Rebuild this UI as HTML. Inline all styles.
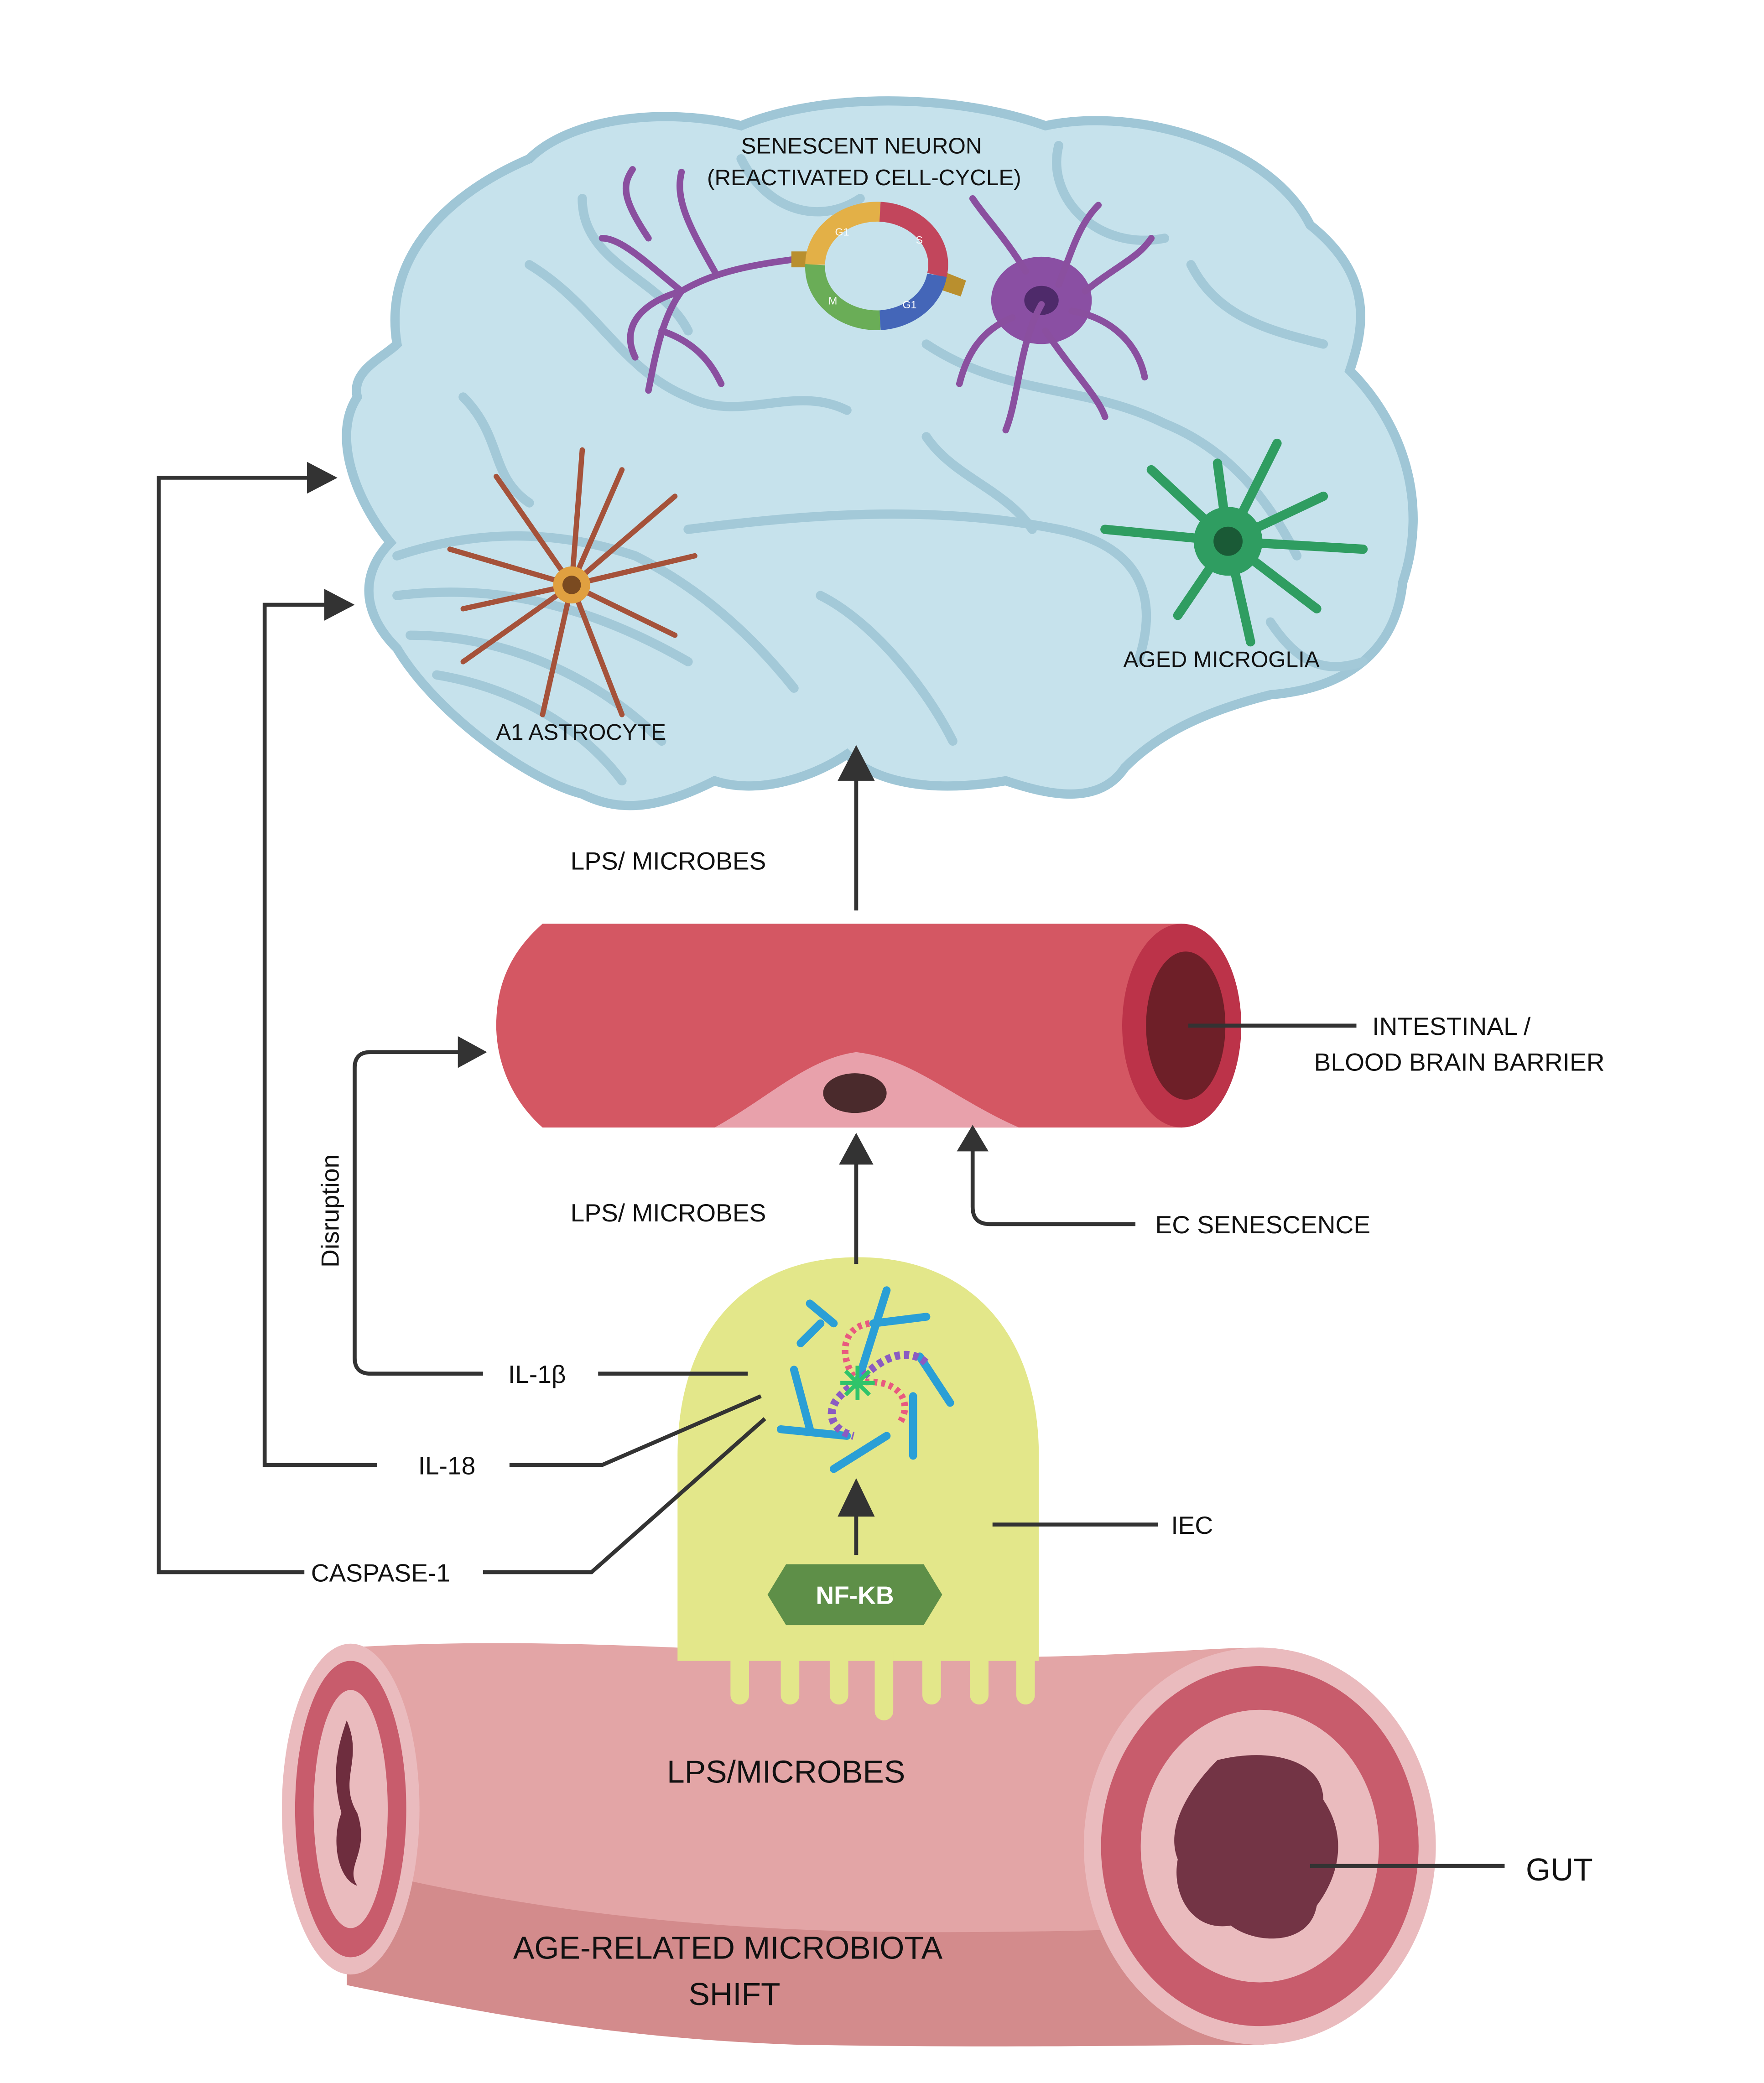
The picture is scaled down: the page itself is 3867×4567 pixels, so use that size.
<!DOCTYPE html>
<html><head><meta charset="utf-8"><style>
html,body{margin:0;padding:0;background:#fff;}
svg{display:block;}
text{font-family:"Liberation Sans",sans-serif;fill:#111;}
</style></head><body>
<svg width="3867" height="4567" viewBox="0 0 1333 1574" preserveAspectRatio="none" xmlns="http://www.w3.org/2000/svg">
<rect width="1333" height="1574" fill="#fff"/>

<!-- Brain -->
<path d="M300,260 C290,200 330,150 400,120 C430,90 500,80 560,95 C620,70 720,70 790,95 C860,80 960,110 990,170 C1040,210 1030,250 1020,280 C1060,320 1080,380 1060,440 C1055,490 1020,520 960,525 C900,540 870,560 850,580 C830,610 790,600 760,590 C700,600 660,590 640,570 C610,590 570,600 540,590 C500,610 470,615 440,600 C400,590 330,540 300,490 C270,460 275,430 295,410 C270,380 250,330 270,300 C265,280 290,270 300,260 Z" fill="#c6e2ec" stroke="#9fc6d6" stroke-width="7"/>
<g fill="none" stroke="#a3c9d8" stroke-width="7" stroke-linecap="round">
<path d="M300,420 C360,400 420,400 480,420 C520,440 560,470 600,520"/>
<path d="M300,450 C380,440 450,460 520,500"/>
<path d="M310,480 C380,480 450,510 500,560"/>
<path d="M330,510 C390,520 440,550 470,590"/>
<path d="M520,400 C600,390 700,380 800,400 C850,410 880,440 860,500"/>
<path d="M400,200 C450,230 470,280 520,300 C560,320 600,290 640,310"/>
<path d="M700,260 C760,300 820,290 880,320 C930,340 960,380 980,420"/>
<path d="M560,120 C580,160 620,170 650,150"/>
<path d="M800,110 C790,150 830,190 880,180"/>
<path d="M350,300 C380,330 370,360 400,380"/>
<path d="M620,450 C660,470 700,520 720,560"/>
<path d="M900,200 C920,240 960,250 1000,260"/>
<path d="M440,150 C440,200 500,210 520,250"/>
<path d="M700,330 C720,360 760,370 780,400"/>
<path d="M960,470 C980,500 1000,510 1030,500"/>
</g>
<!-- neuron left -->
<g stroke="#8a4f9f" stroke-width="5" fill="none" stroke-linecap="round">
<path d="M600,196 C570,200 540,205 515,220 C500,240 495,270 490,295"/>
<path d="M515,220 C490,200 470,180 455,180"/>
<path d="M540,205 C520,170 510,150 515,130"/>
<path d="M515,220 C480,230 470,250 480,270"/>
<path d="M500,250 C530,260 540,280 545,290"/>
<path d="M490,180 C470,150 470,140 478,128"/>
</g>
<!-- neuron right -->
<ellipse cx="787" cy="227" rx="38" ry="33" fill="#8a4fa3"/>
<ellipse cx="787" cy="227" rx="13" ry="11" fill="#4e2a6a"/>
<g stroke="#8a4f9f" stroke-width="5" fill="none" stroke-linecap="round">
<path d="M787,230 C770,260 770,300 760,325"/>
<path d="M800,215 C810,190 815,170 830,155"/>
<path d="M810,235 C840,240 860,260 865,285"/>
<path d="M775,205 C760,180 745,165 735,150"/>
<path d="M820,220 C845,200 860,195 870,180"/>
<path d="M790,250 C810,280 830,300 835,315"/>
<path d="M765,240 C740,250 730,270 725,290"/>
</g>
<path d="M598,190 L612,190 L612,202 L598,202 Z" fill="#b98f2e"/>
<path d="M710,204 L730,212 L726,224 L708,218 Z" fill="#b98f2e"/>
<!-- cell cycle ring -->
<g fill="none" stroke-width="15">
<path d="M616,200 A47,40 0 0 1 665,160" stroke="#e3b047"/>
<path d="M665,160 A47,40 0 0 1 708,208" stroke="#c2465c"/>
<path d="M708,208 A47,40 0 0 1 665,242" stroke="#4466b8"/>
<path d="M665,242 A47,40 0 0 1 616,200" stroke="#6aad57"/>
</g>
<text x="631" y="178" font-size="8" style="fill:#fff">G1</text>
<text x="692" y="184" font-size="8" style="fill:#fff">S</text>
<text x="682" y="233" font-size="8" style="fill:#fff">G1</text>
<text x="626" y="230" font-size="8" style="fill:#fff">M</text>
<!-- astrocyte -->
<g stroke="#a5523a" stroke-width="4" fill="none" stroke-linecap="round">
<path d="M432,442 L440,340"/><path d="M432,442 L470,355"/><path d="M432,442 L510,375"/>
<path d="M432,442 L525,420"/><path d="M432,442 L510,480"/><path d="M432,442 L470,540"/>
<path d="M432,442 L410,540"/><path d="M432,442 L350,500"/><path d="M432,442 L340,415"/>
<path d="M432,442 L375,360"/><path d="M432,442 L350,460"/>
</g>
<circle cx="432" cy="442" r="14" fill="#e0a040"/><circle cx="432" cy="442" r="7" fill="#7a4a20"/>
<!-- microglia -->
<g stroke="#2f9d61" stroke-width="7" fill="none" stroke-linecap="round">
<path d="M928,409 L920,350"/><path d="M928,409 L965,335"/><path d="M928,409 L1000,375"/>
<path d="M928,409 L1030,415"/><path d="M928,409 L995,460"/><path d="M928,409 L945,485"/>
<path d="M928,409 L890,465"/><path d="M928,409 L835,400"/><path d="M928,409 L870,355"/>
</g>
<circle cx="928" cy="409" r="26" fill="#2f9d61"/><circle cx="928" cy="409" r="11" fill="#1a5a36"/>
<text x="651" y="116" font-size="17" text-anchor="middle">SENESCENT NEURON</text>
<text x="653" y="140" font-size="17" text-anchor="middle">(REACTIVATED CELL-CYCLE)</text>
<text x="923" y="504" font-size="17" text-anchor="middle">AGED MICROGLIA</text>
<text x="439" y="559" font-size="17" text-anchor="middle">A1 ASTROCYTE</text>

<!-- blood vessel -->
<path d="M410,698 L893,698 L893,852 L410,852 C385,830 375,800 375,775 C375,745 385,720 410,698 Z" fill="#d45763"/>
<path d="M540,852 C580,830 610,800 647,795 C690,800 720,830 770,852 Z" fill="#e8a1ab"/>
<ellipse cx="646" cy="826" rx="24" ry="15" fill="#4a2a2c"/>
<ellipse cx="893" cy="775" rx="45" ry="77" fill="#bc3349"/>
<ellipse cx="896" cy="775" rx="30" ry="56" fill="#6e1f28"/>

<!-- gut -->
<path d="M262,1245 C420,1235 560,1250 700,1252 C840,1254 900,1245 955,1245 L955,1545 C900,1540 760,1540 600,1540 C460,1540 360,1520 262,1500 Z" fill="#e3a5a6"/>
<path d="M262,1410 C380,1440 520,1460 700,1460 C860,1460 920,1455 955,1450 L955,1545 C900,1545 760,1548 600,1545 C460,1540 360,1520 262,1500 Z" fill="#d38b8c"/>

<!-- IEC -->
<path d="M512,1255 L512,1100 C512,1010 560,950 648,950 C735,950 785,1010 785,1100 L785,1255 Z" fill="#e3e78a"/>
<g fill="#e3e78a">
<rect x="552" y="1240" width="14" height="48" rx="7"/><rect x="590" y="1240" width="14" height="48" rx="7"/>
<rect x="627" y="1240" width="14" height="48" rx="7"/><rect x="661" y="1240" width="14" height="60" rx="7"/>
<rect x="697" y="1240" width="14" height="48" rx="7"/><rect x="733" y="1240" width="14" height="48" rx="7"/>
<rect x="768" y="1240" width="14" height="48" rx="7"/>
</g>
<!-- inflammasome -->
<g stroke="#2a9fd6" stroke-width="6" stroke-linecap="round">
<path d="M648,1045 L670,975"/><path d="M630,1000 L612,985"/><path d="M660,1000 L700,995"/>
<path d="M695,1025 L718,1060"/><path d="M690,1055 L690,1100"/><path d="M670,1085 L630,1110"/>
<path d="M600,1035 L612,1080"/><path d="M590,1080 L640,1085"/><path d="M605,1015 L620,1000"/>
</g>
<g stroke="#e9597f" stroke-width="5" stroke-dasharray="3,3" fill="none">
<path d="M648,1045 C630,1020 640,1000 660,1000"/><path d="M648,1045 C680,1040 690,1060 680,1075"/>
</g>
<g stroke="#8b5bc2" stroke-width="6" stroke-dasharray="4,3" fill="none">
<path d="M648,1045 C620,1060 625,1080 645,1085"/><path d="M648,1045 C670,1020 690,1020 700,1030"/>
</g>
<g stroke="#2fc46a" stroke-width="3"><path d="M635,1045 L661,1045 M648,1032 L648,1058 M639,1036 L657,1054 M657,1036 L639,1054"/></g>
<!-- NF-KB -->
<path d="M580,1205 L594,1182 L698,1182 L712,1205 L698,1228 L594,1228 Z" fill="#5e8f48"/>
<text x="646" y="1212" font-size="19" font-weight="bold" text-anchor="middle" style="fill:#fff">NF-KB</text>

<ellipse cx="265" cy="1367" rx="52" ry="125" fill="#eabbbe"/>
<ellipse cx="265" cy="1367" rx="42" ry="112" fill="#c85c6c"/>
<ellipse cx="265" cy="1367" rx="28" ry="90" fill="#eabbbe"/>
<path d="M262,1300 C275,1330 255,1345 270,1370 C280,1400 260,1410 270,1425 C255,1420 250,1390 258,1370 C250,1340 255,1320 262,1300 Z" fill="#6e2d3e"/>
<ellipse cx="952" cy="1395" rx="133" ry="150" fill="#eabbbe"/>
<ellipse cx="952" cy="1395" rx="120" ry="136" fill="#c85c6c"/>
<ellipse cx="952" cy="1395" rx="90" ry="103" fill="#eabbbe"/>
<path d="M920,1330 C960,1320 1000,1330 1000,1360 C1020,1390 1010,1420 995,1440 C990,1470 950,1470 930,1455 C900,1460 885,1430 890,1405 C880,1380 900,1350 920,1330 Z" fill="#733445"/>

<!-- connectors -->
<g stroke="#333" stroke-width="3" fill="none">
<path d="M230,1188 L120,1188 L120,361 L235,361"/>
<path d="M285,1107 L200,1107 L200,457 L248,457"/>
<path d="M365,1038 L280,1038 Q268,1038 268,1026 L268,807 Q268,795 280,795 L350,795"/>
<path d="M365,1188 L447,1188 L578,1072"/>
<path d="M385,1107 L455,1107 L575,1055"/>
<path d="M452,1038 L565,1038"/>
<path d="M647,688 L647,585"/>
<path d="M647,955 L647,875"/>
<path d="M647,1175 L647,1140"/>
<path d="M858,925 L748,925 Q735,925 735,912 L735,865"/>
<path d="M898,775 L1025,775"/>
<path d="M750,1152 L875,1152"/>
<path d="M990,1410 L1137,1410"/>
</g>
<g fill="#333">
<path d="M232,349 L255,361 L232,373 Z"/>
<path d="M245,445 L268,457 L245,469 Z"/>
<path d="M346,783 L368,795 L346,807 Z"/>
<path d="M633,590 L647,563 L661,590 Z"/>
<path d="M634,880 L647,856 L660,880 Z"/>
<path d="M633,1146 L647,1117 L661,1146 Z"/>
<path d="M723,870 L735,850 L747,870 Z"/>
</g>

<!-- labels -->
<text x="505" y="657" font-size="19" text-anchor="middle">LPS/ MICROBES</text>
<text x="505" y="923" font-size="19" text-anchor="middle">LPS/ MICROBES</text>
<text x="1037" y="782" font-size="19">INTESTINAL /</text>
<text x="993" y="809" font-size="19">BLOOD BRAIN BARRIER</text>
<text x="873" y="932" font-size="19">EC SENESCENCE</text>
<text x="256" y="915" font-size="19" text-anchor="middle" transform="rotate(-90 256 915)">Disruption</text>
<text x="384" y="1045" font-size="19">IL-1β</text>
<text x="316" y="1114" font-size="19">IL-18</text>
<text x="235" y="1195" font-size="19">CASPASE-1</text>
<text x="885" y="1159" font-size="19">IEC</text>
<text x="594" y="1347" font-size="24" text-anchor="middle">LPS/MICROBES</text>
<text x="1153" y="1421" font-size="24">GUT</text>
<text x="550" y="1480" font-size="24" text-anchor="middle">AGE-RELATED MICROBIOTA</text>
<text x="555" y="1515" font-size="24" text-anchor="middle">SHIFT</text>
</svg>
</body></html>
